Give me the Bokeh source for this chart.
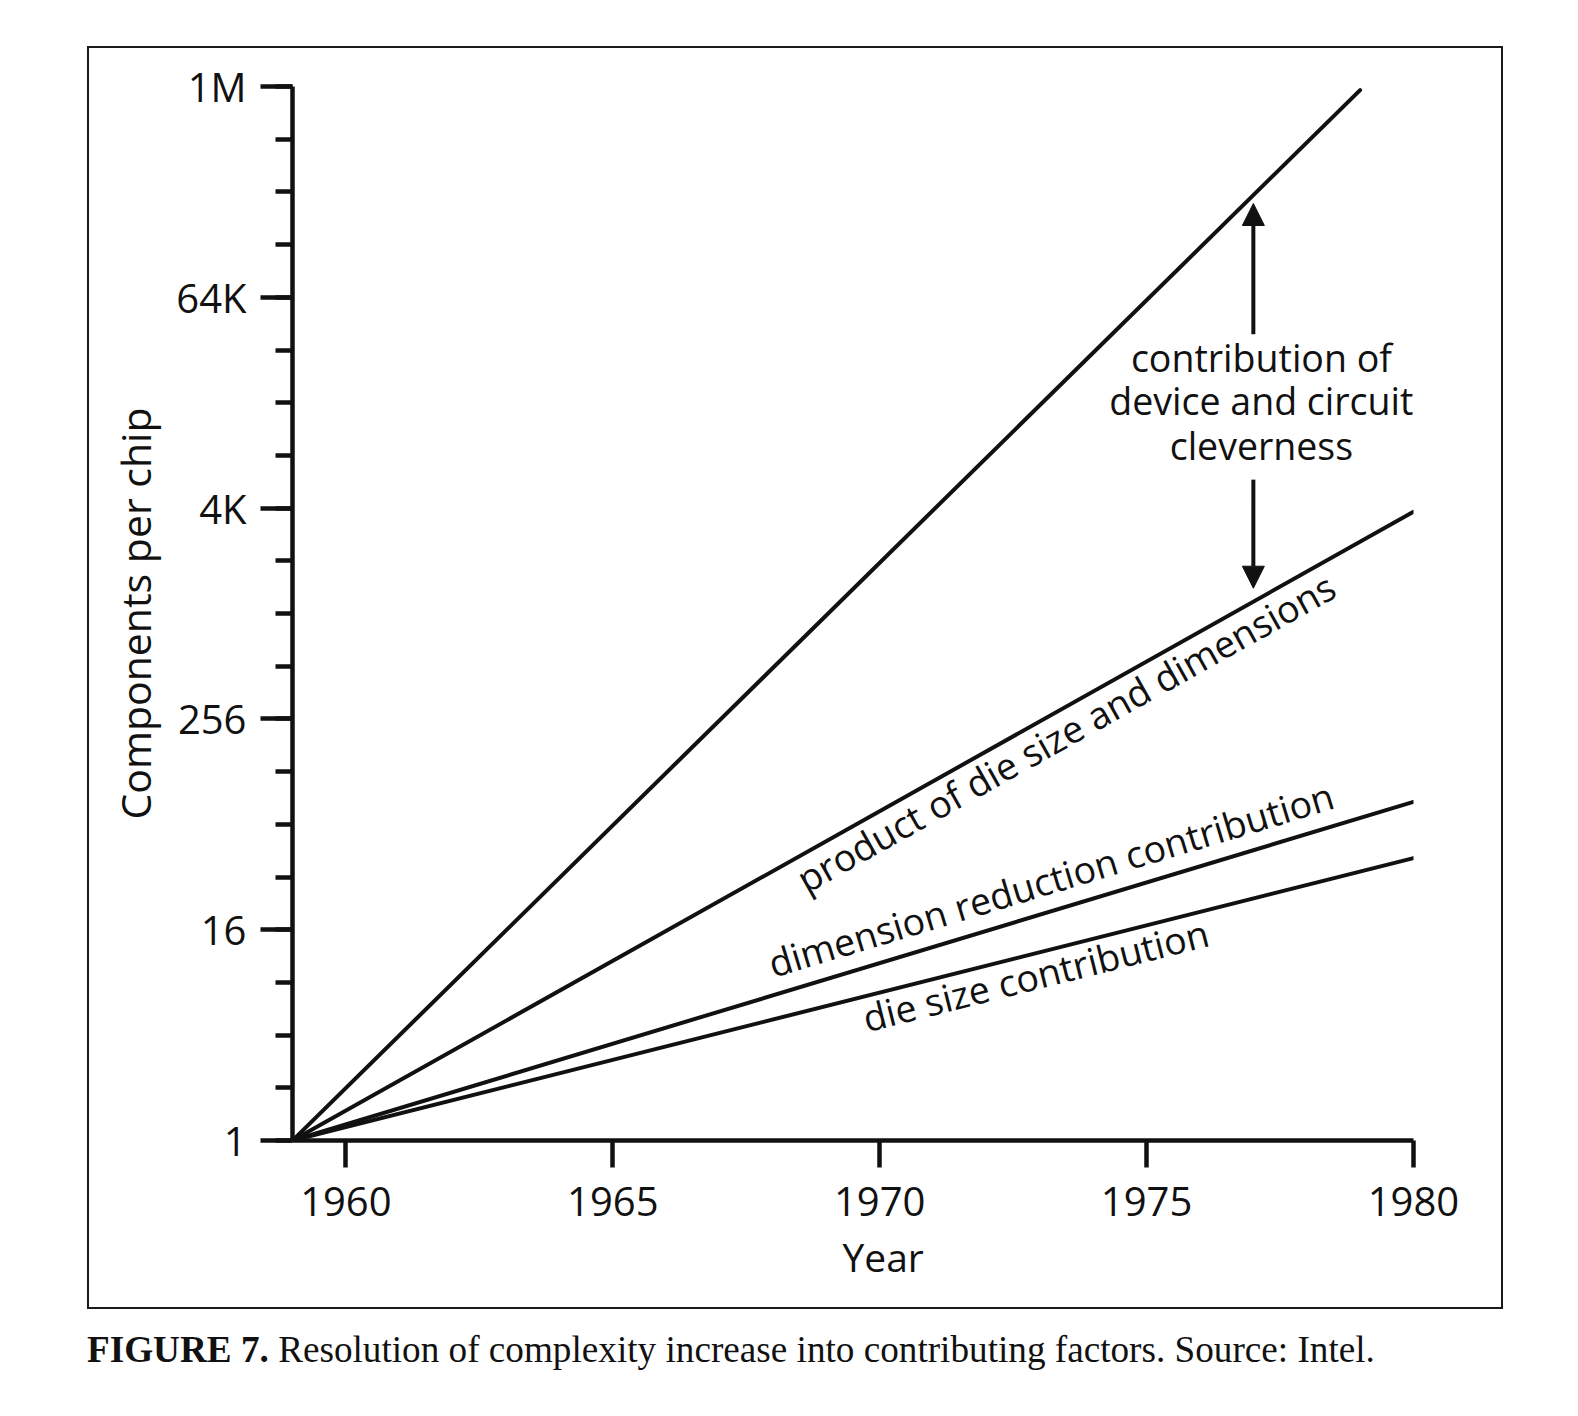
import math
from bokeh.plotting import figure
from bokeh.models import (FixedTicker, CustomJSTickFormatter, Label, Arrow,
                          NormalHead, Range1d, Div, Title)
from bokeh.layouts import column
from bokeh.embed import file_html
from bokeh.resources import INLINE

# ---------------- data ----------------
x_ticks = [1960, 1965, 1970, 1975, 1980]
y_ticks = [1, 16, 256, 4096, 65536, 1048576]
y_tick_labels = ["1", "16", "256", "4K", "64K", "1M"]
y_minor = [2 ** i for i in range(21)]

circuit_years = [1959, 1979]
circuit_values = [1, 1000000]
product_years = [1959, 1980]
product_values = [1, 3900]
dimension_years = [1959, 1980]
dimension_values = [1, 86]
die_years = [1959, 1980]
die_values = [1, 41]

# ---------------- layout constants ----------------
W, H = 1416, 1263
ML, MR, MT, MB = 203, 92, 38, 171
FRAME_W = W - 4 - ML - MR
FRAME_H = H - 4 - MT - MB
X0, X1 = 1959, 1980
Y0, Y1 = 1, 2 ** 20
px_year = FRAME_W / (X1 - X0)
px_doubling = FRAME_H / math.log2(Y1 / Y0)
FIX = 13  # baseline correction (px)

FONT = "Open Sans"
INK = "#111111"

p = figure(width=W, height=H, x_range=Range1d(X0, X1), y_range=Range1d(Y0, Y1),
           y_axis_type="log", output_backend="svg", toolbar_location=None,
           min_border_left=ML, min_border_right=MR, min_border_top=MT,
           min_border_bottom=MB, background_fill_color="white",
           border_fill_color="white")
p.outline_line_color = None
p.xgrid.visible = False
p.ygrid.visible = False
p.styles = {"border": "2px solid #1a1a1a"}
p.margin = (46, 0, 0, 87)

# x axis
xa = p.xaxis[0]
xa.ticker = FixedTicker(ticks=x_ticks)
xa.axis_line_width = 4.5
xa.axis_line_color = INK
xa.major_tick_line_width = 4.5
xa.major_tick_line_color = INK
xa.major_tick_in = 0
xa.major_tick_out = 27
xa.minor_tick_line_color = None
xa.major_label_standoff = 19
xa.major_label_text_font = FONT
xa.major_label_text_font_size = "40px"
xa.major_label_text_color = INK

# x axis title (a below-title, shifted right as in the original)
p.add_layout(Title(text="Year", align="left", offset=550, standoff=19,
                   text_font=FONT, text_font_size="39px", text_font_style="normal",
                   text_color=INK), "below")

# y axis
ya = p.yaxis[0]
ya.ticker = FixedTicker(ticks=y_ticks, minor_ticks=y_minor)
ya.formatter = CustomJSTickFormatter(args=dict(vals=y_ticks, labels=y_tick_labels), code="""
    for (let i = 0; i < vals.length; i++) {
        if (Math.abs(vals[i] - tick) < 1e-6 * vals[i]) return labels[i];
    }
    return "";
""")
ya.axis_label = "Components per chip"
ya.axis_line_width = 4.5
ya.axis_line_color = INK
ya.major_tick_line_width = 4.5
ya.major_tick_line_color = INK
ya.major_tick_in = 0
ya.major_tick_out = 32
ya.minor_tick_line_width = 4.5
ya.minor_tick_line_color = INK
ya.minor_tick_in = 0
ya.minor_tick_out = 17
ya.major_label_standoff = 14
ya.major_label_text_font = FONT
ya.major_label_text_font_size = "40px"
ya.major_label_text_color = INK
ya.axis_label_text_font = FONT
ya.axis_label_text_font_size = "41px"
ya.axis_label_text_font_style = "normal"
ya.axis_label_text_color = INK
ya.axis_label_standoff = 10

# lines
for xs, ys in [(circuit_years, circuit_values), (product_years, product_values),
               (dimension_years, dimension_values), (die_years, die_values)]:
    p.line(xs, ys, line_width=4, line_color=INK, line_cap="round")


def line_angle(xs, ys):
    dx = (xs[1] - xs[0]) * px_year
    dy = math.log2(ys[1] / ys[0]) * px_doubling
    return math.atan2(dy, dx)


def value_at(xs, ys, year):
    t = (year - xs[0]) / (xs[1] - xs[0])
    return ys[0] * (ys[1] / ys[0]) ** t


def line_label(text, xs, ys, year, d):
    th = line_angle(xs, ys)
    dd = d + FIX
    p.add_layout(Label(x=year, y=value_at(xs, ys, year), text=text, angle=th,
                       x_offset=-dd * math.sin(th), y_offset=dd * math.cos(th),
                       text_font=FONT, text_font_size="37.5px", text_color=INK,
                       text_align="left", text_baseline="alphabetic"))


line_label("product of die size and dimensions", product_years, product_values, 1968.3, -35)
line_label("dimension reduction contribution", dimension_years, dimension_values, 1968.1, 18)
line_label("die size contribution", die_years, die_values, 1969.6, -34)

# central annotation
note_lines = ["contribution of", "device and circuit", "cleverness"]
note_levels = [14.53, 13.71, 12.86]
for txt, lv in zip(note_lines, note_levels):
    p.add_layout(Label(x=1977.15, y=2 ** lv, y_offset=FIX + 4, text=txt, text_font=FONT,
                       text_font_size="37.5px", text_color=INK,
                       text_align="center", text_baseline="alphabetic"))

p.add_layout(Arrow(end=NormalHead(size=22, fill_color=INK, line_color=INK),
                   x_start=1977, y_start=2 ** 15.3, x_end=1977, y_end=2 ** 17.78,
                   line_width=4, line_color=INK))
p.add_layout(Arrow(end=NormalHead(size=22, fill_color=INK, line_color=INK),
                   x_start=1977, y_start=2 ** 12.54, x_end=1977, y_end=2 ** 10.48,
                   line_width=4, line_color=INK))

caption = Div(text="<b>FIGURE 7.</b> Resolution of complexity increase into contributing factors. Source: Intel.",
              width=1440, height=48, margin=(14, 0, 0, 87),
              styles={"font-family": "Liberation Serif", "font-size": "37.2px",
                      "color": "#111111", "white-space": "nowrap"})

layout = column(p, caption)
open("out.html", "w").write(file_html(layout, INLINE))
